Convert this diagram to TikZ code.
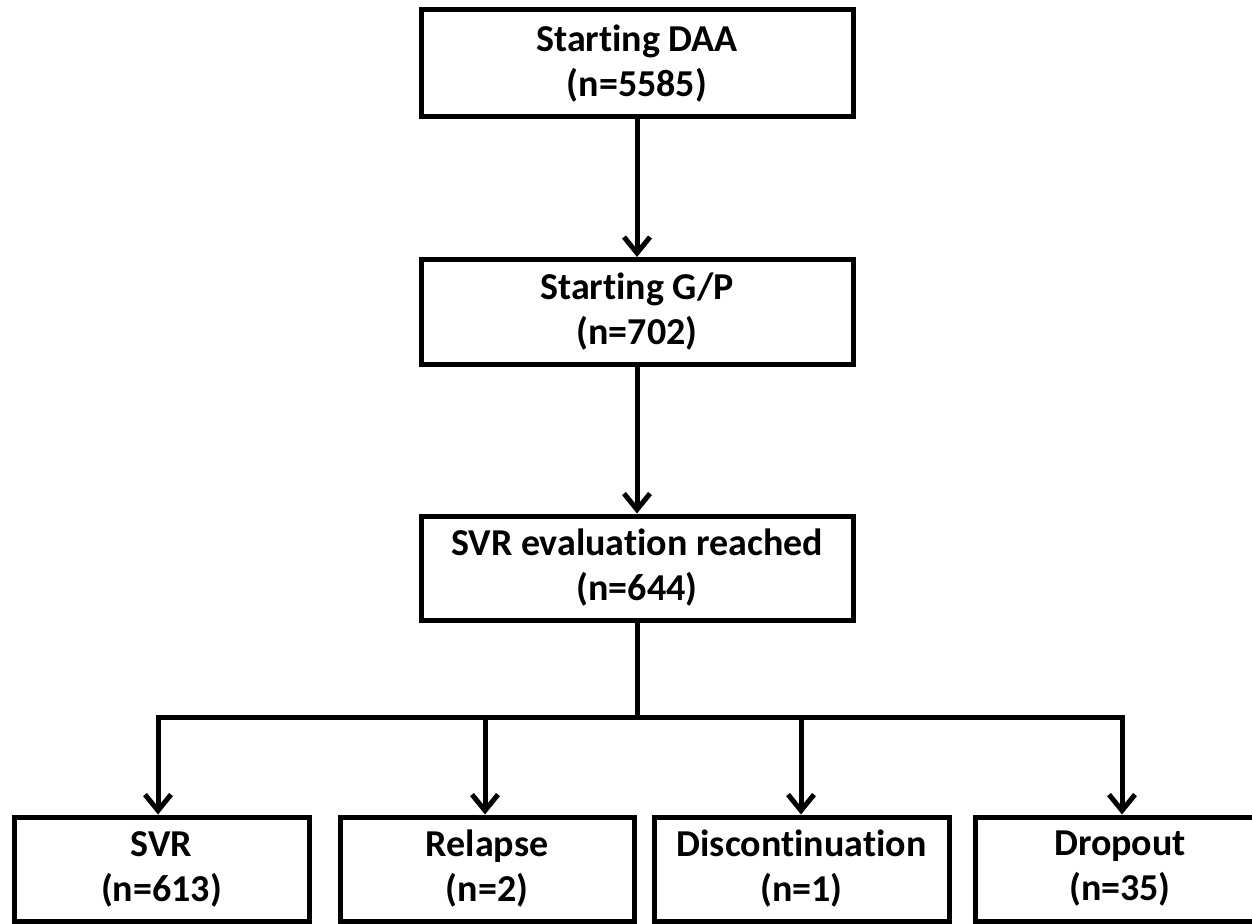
\documentclass[tikz,border=0pt]{standalone}
\usepackage{fontspec}
\setmainfont{Carlito}[RawFeature={-liga}]
\usetikzlibrary{arrows.meta}
\begin{document}
\begin{tikzpicture}[x=1pt,y=-1pt,
  box/.style={draw=black,line width=5pt,fill=white,align=center,inner sep=0pt,
    font=\fontsize{38}{45}\selectfont\bfseries},
  link/.style={line width=5pt,draw=black},
  arr/.style={link,-{Straight Barb[length=16pt,width=26pt,line width=5pt]}}]
\useasboundingbox (0,0) rectangle (1252,923);
\node[box,minimum width=432pt,minimum height=107pt] (s1) at (637,63.5) {Starting DAA\\(n=5585)};
\node[box,minimum width=432pt,minimum height=105pt] (s2) at (637,312) {Starting G/P\\(n=702)};
\node[box,minimum width=432pt,minimum height=104pt] (s3) at (637,568) {SVR evaluation reached\\(n=644)};
\node[box,minimum width=295pt,minimum height=104pt] (b1) at (161.5,869) {SVR\\(n=613)};
\node[box,minimum width=294pt,minimum height=104pt] (b2) at (487,869) {Relapse\\(n=2)};
\node[box,minimum width=295pt,minimum height=104pt] (b3) at (801.5,869) {Discontinuation\\(n=1)};
\node[box,minimum width=300pt,minimum height=104pt] (b4) at (1125,869) {\hspace*{-10pt}Dropout\\\hspace*{-10pt}(n=35)};
\coordinate (j) at (637,717);
\coordinate (h1) at (158,717);
\coordinate (h2) at (485,717);
\coordinate (h3) at (801,717);
\coordinate (h4) at (1122,717);
\draw[arr] (s1.south) -- (s2.north);
\draw[arr] (s2.south) -- (s3.north);
\draw[link] (s3.south) -- (j);
\draw[link,line cap=rect] (h1) -- (h4);
\draw[arr] (h1) -- (h1 |- b1.north);
\draw[arr] (h2) -- (h2 |- b2.north);
\draw[arr] (h3) -- (h3 |- b3.north);
\draw[arr] (h4) -- (h4 |- b4.north);
\end{tikzpicture}
\end{document}
